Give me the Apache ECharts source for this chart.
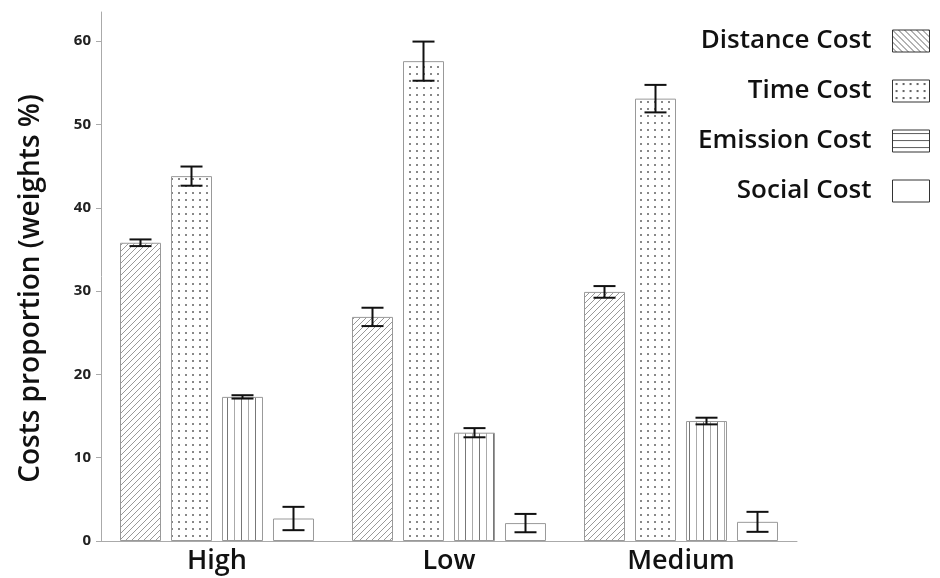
<!DOCTYPE html>
<html>
<head>
<meta charset="utf-8">
<script src="https://cdn.jsdelivr.net/npm/echarts@6/dist/echarts.min.js"></script>
<style>
html,body{margin:0;padding:0;background:#fff;}
#chart{width:940px;height:578px;}
</style>
</head>
<body>
<div id="chart"></div>
<script>
// ---- data ----
const categories = ['High', 'Low', 'Medium'];
const seriesNames = ['Distance Cost', 'Time Cost', 'Emission Cost', 'Social Cost'];
const distanceCost = [35.8, 26.9, 29.9];
const distanceErr  = [0.4, 1.1, 0.7];
const timeCost     = [43.8, 57.6, 53.1];
const timeErr      = [1.15, 2.35, 1.65];
const emissionCost = [17.3, 13.0, 14.4];
const emissionErr  = [0.2, 0.55, 0.4];
const socialCost   = [2.7, 2.15, 2.3];
const socialErr    = [1.4, 1.1, 1.2];
const yTicks = [0, 10, 20, 30, 40, 50, 60];

const values = [distanceCost, timeCost, emissionCost, socialCost];
const errors = [distanceErr, timeErr, emissionErr, socialErr];

// ---- patterns ----
function makeTile(w, h, draw) {
  const c = document.createElement('canvas');
  c.width = w; c.height = h;
  const ctx = c.getContext('2d');
  ctx.fillStyle = '#fff';
  ctx.fillRect(0, 0, w, h);
  draw(ctx, w, h);
  return { image: c, repeat: 'repeat' };
}
function diag(color, forward) {
  return makeTile(6, 6, (ctx, w, h) => {
    ctx.strokeStyle = color; ctx.lineWidth = 1;
    for (let k = -1; k <= 1; k++) {
      ctx.beginPath();
      if (forward) { ctx.moveTo(k * w, h); ctx.lineTo(k * w + w, 0); }
      else { ctx.moveTo(k * w, 0); ctx.lineTo(k * w + w, h); }
      ctx.stroke();
    }
  });
}
function dots(color) {
  return makeTile(7, 7, (ctx) => {
    ctx.fillStyle = color;
    ctx.fillRect(3, 3, 2, 2);
  });
}
function vlines() {
  return makeTile(14, 4, (ctx, w, h) => {
    ctx.fillStyle = '#777'; ctx.fillRect(3, 0, 1, h);
    ctx.fillStyle = '#aaa'; ctx.fillRect(10, 0, 1, h);
  });
}
function hlines() {
  return makeTile(4, 7, (ctx, w, h) => {
    ctx.fillStyle = '#666'; ctx.fillRect(0, 3, w, 1);
  });
}
const barFills = [diag('#999', true), dots('#888'), vlines(), '#fff'];
const legendFills = [diag('#666', false), dots('#666'), hlines(), '#fff'];

const BAR_W = 41, BAR_GAP = 10;
const FONT = '"Open Sans", "Noto Sans", sans-serif';

const series = seriesNames.map((name, i) => ({
  name: name,
  type: 'bar',
  data: values[i],
  barWidth: BAR_W,
  barGap: (BAR_GAP / BAR_W * 100).toFixed(2) + '%',
  itemStyle: { color: barFills[i], borderColor: '#999', borderWidth: 1 },
  emphasis: { disabled: true },
  z: 2
}));

const errData = [];
for (let s = 0; s < values.length; s++) {
  for (let c = 0; c < categories.length; c++) {
    errData.push([c, values[s][c], errors[s][c], s]);
  }
}
series.push({
  type: 'custom',
  name: 'err',
  z: 10,
  silent: true,
  data: errData,
  encode: { x: 0, y: 1 },
  renderItem: function (params, api) {
    const c = api.value(0), v = api.value(1), e = api.value(2), s = api.value(3);
    const n = values.length;
    const total = n * BAR_W + (n - 1) * BAR_GAP;
    const base = api.coord([c, 0]);
    const cx = base[0] - total / 2 + s * (BAR_W + BAR_GAP) + BAR_W / 2;
    const yTop = api.coord([c, v + e])[1];
    const yBot = api.coord([c, v - e])[1];
    const hw = 11;
    const st = { stroke: '#111', lineWidth: 2 };
    return {
      type: 'group',
      children: [
        { type: 'line', shape: { x1: cx, y1: yTop, x2: cx, y2: yBot }, style: st },
        { type: 'line', shape: { x1: cx - hw, y1: yTop, x2: cx + hw, y2: yTop }, style: st },
        { type: 'line', shape: { x1: cx - hw, y1: yBot, x2: cx + hw, y2: yBot }, style: st }
      ]
    };
  }
});

const chart = echarts.init(document.getElementById('chart'), null, { renderer: 'canvas' });
chart.setOption({
  animation: false,
  backgroundColor: '#fff',
  textStyle: { fontFamily: FONT },
  grid: { left: 101, right: 143, top: 12, bottom: 37, containLabel: false },
  legend: {
    orient: 'vertical',
    right: 5,
    top: 20,
    align: 'right',
    icon: 'rect',
    itemWidth: 37,
    itemHeight: 22,
    itemGap: 18,
    selectedMode: false,
    data: seriesNames.map((n, i) => ({
      name: n,
      itemStyle: { color: legendFills[i], borderColor: '#333', borderWidth: 1 }
    })),
    textStyle: {
      fontSize: 26, fontWeight: 600, color: '#111', lineHeight: 32,
      fontFamily: FONT,
      padding: [0, 16, 0, 0]
    }
  },
  xAxis: {
    type: 'category',
    data: categories,
    axisLine: { lineStyle: { color: '#aaa', width: 1 } },
    axisTick: { alignWithLabel: true, length: 5, lineStyle: { color: '#aaa' } },
    axisLabel: { fontSize: 27, color: '#111', margin: 7, fontWeight: 600, fontFamily: FONT },
    splitLine: { show: false }
  },
  yAxis: {
    type: 'value',
    min: 0,
    max: 63.5,
    interval: 10,
    name: 'Costs proportion (weights %)',
    nameLocation: 'middle',
    nameGap: 56,
    nameTextStyle: { fontSize: 28, color: '#111', fontWeight: 600, fontFamily: FONT, padding: [0, 24, 0, 0] },
    axisLine: { show: true, lineStyle: { color: '#aaa', width: 1 } },
    axisTick: { show: true, length: 5, lineStyle: { color: '#aaa' } },
    axisLabel: {
      fontSize: 15, fontWeight: 'bold', color: '#222', margin: 10, fontFamily: FONT,
      showMaxLabel: false,
      formatter: function (v) { return yTicks.indexOf(v) >= 0 ? String(v) : ''; }
    },
    splitLine: { show: false }
  },
  series: series
});
</script>
</body>
</html>
